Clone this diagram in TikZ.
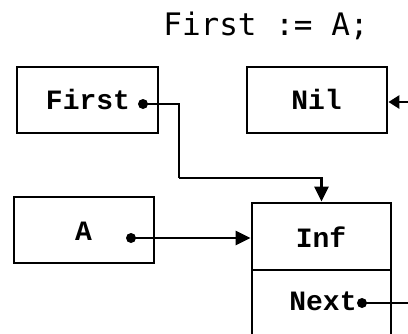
\documentclass[tikz,border=0pt]{standalone}
\usepackage{fontspec}
\setmonofont{Liberation Mono}
\newfontfamily\codefont{DejaVu Sans Mono}
\usetikzlibrary{arrows.meta}
\begin{document}
\begin{tikzpicture}[x=1pt,y=-1pt,
  cell/.style={draw,line width=2.8pt,rectangle,inner sep=0pt},
  lbl/.style={anchor=base,inner sep=0pt,font=\fontsize{28}{28}\selectfont\ttfamily\bfseries},
  wire/.style={line width=2.8pt},
  ptr/.style={wire,-{Triangle[length=15pt,width=14pt]}},
  dotmark/.style={circle,fill,inner sep=0pt,minimum size=10pt}]
  \useasboundingbox (0,0) rectangle (408,333);
  \clip (0,0) rectangle (408,333);

  % statement
  \node[anchor=base,inner sep=0pt,font=\codefont\fontsize{31}{31}\selectfont] (stmt) at (266,35) {First := A;};

  % variables
  \node[cell,minimum width=141pt,minimum height=66pt] (first) at (87.5,100) {};
  \node[lbl] (firstlbl) at (88,109) {First};
  \node[cell,minimum width=140pt,minimum height=66pt] (nil) at (317,100) {};
  \node[lbl] (nillbl) at (316.5,109) {Nil};
  \node[cell,minimum width=140pt,minimum height=66pt] (a) at (84,230) {};
  \node[lbl] (albl) at (83.5,240) {A};

  % record
  \node[cell,minimum width=139pt,minimum height=67pt] (rec) at (321.5,236.5) {};
  \node[lbl] (inflbl) at (321,247) {Inf};
  \node[cell,minimum width=139pt,minimum height=80pt] (next) at (321.5,310) {};
  \node[lbl] (nextlbl) at (323,310) {Next};

  % pointer sources
  \node[dotmark] (fdot) at (143,104) {};
  \node[dotmark] (adot) at (131,238) {};
  \node[dotmark] (ndot) at (362,303) {};
  \coordinate (bend) at (179,178);
  \coordinate (nilsrc) at (420,102);
  \coordinate (nextend) at (420,303);

  % connectors
  \draw[wire] (fdot.center) -| (bend);
  \draw[ptr] (bend) -| (rec.north);
  \draw[ptr] (adot.center) -- (adot -| rec.west);
  \draw[wire,-{Triangle[length=11pt,width=13pt]}] (nilsrc) -- (nilsrc -| nil.east);
  \draw[wire] (ndot.center) -- (nextend);
\end{tikzpicture}
\end{document}
